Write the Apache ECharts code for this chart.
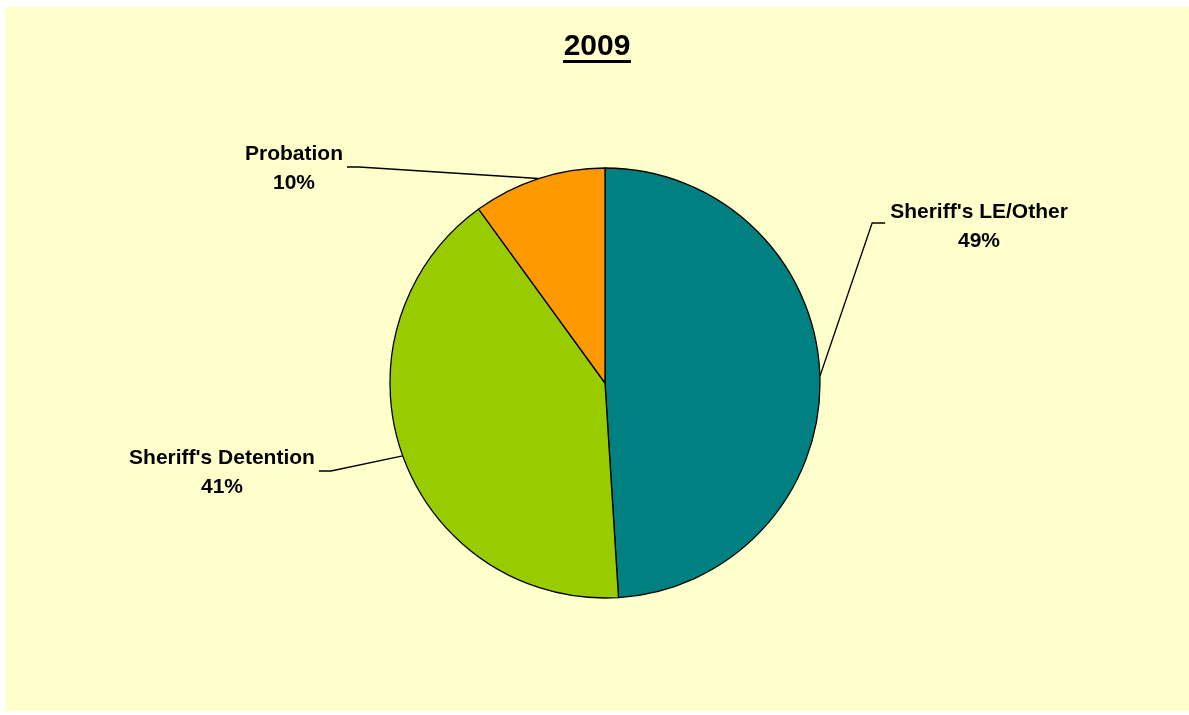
<!DOCTYPE html>
<html>
<head>
<meta charset="utf-8">
<script src="https://cdn.jsdelivr.net/npm/echarts@6/dist/echarts.min.js"></script>
<style>
  html, body { margin: 0; padding: 0; background: #ffffff; }
  #chart { position: absolute; left: 5px; top: 7px; width: 1184px; height: 704px; background: #FFFFCC; }
</style>
</head>
<body>
<div id="chart"></div>
<script>
// ---- data ----
var titleText = '2009';
var categories = ["Sheriff's LE/Other", "Sheriff's Detention", "Probation"];
var values = [49, 41, 10];
var colors = ['#008080', '#99CC00', '#FF9900'];

// ---- label placement (layout only) ----
var labelPlaces = [
  { x: 974, y: 220, side: 'right' },
  { x: 217, y: 466, side: 'left' },
  { x: 289, y: 162, side: 'left' }
];

var FONT = "'Liberation Sans', Arial, Helvetica, sans-serif";
var chart = echarts.init(document.getElementById('chart'), null, { renderer: 'canvas' });

var option = {
  backgroundColor: 'transparent',
  animation: false,
  title: {
    text: titleText,
    left: 'center',
    top: 20,
    textStyle: { fontFamily: FONT, fontSize: 30, fontWeight: 'bold', color: '#000000' }
  },
  graphic: [{
    type: 'rect',
    left: 'center',
    top: 53,
    shape: { width: 68, height: 3 },
    style: { fill: '#000000' }
  }],
  series: [{
    type: 'pie',
    center: [600, 376],
    radius: 215,
    startAngle: 90,
    clockwise: true,
    percentPrecision: 0,
    data: categories.map(function (c, i) {
      return { name: c, value: values[i], itemStyle: { color: colors[i] } };
    }),
    itemStyle: { borderColor: '#000000', borderWidth: 1.3 },
    emphasis: { disabled: true },
    label: {
      show: true,
      position: 'outside',
      formatter: '{b}\n{d}%',
      fontFamily: FONT,
      fontSize: 21,
      fontWeight: 'bold',
      color: '#000000',
      lineHeight: 29,
      align: 'center'
    },
    labelLine: {
      show: true,
      length: 20,
      length2: 10,
      lineStyle: { color: '#000000', width: 1.3 }
    },
    labelLayout: function (params) {
      var p = labelPlaces[params.dataIndex];
      var w = params.labelRect.width;
      var start = params.labelLinePoints[0];
      var end, elbow;
      if (p.side === 'right') {
        end = [p.x - w / 2 - 5, p.y - 4];
        elbow = [end[0] - 13, end[1]];
      } else {
        end = [p.x + w / 2 + 4, p.y - 2];
        elbow = [end[0] + 12, end[1]];
      }
      return {
        x: p.x,
        y: p.y,
        align: 'center',
        verticalAlign: 'middle',
        labelLinePoints: [start, elbow, end]
      };
    }
  }]
};
chart.setOption(option);
</script>
</body>
</html>
